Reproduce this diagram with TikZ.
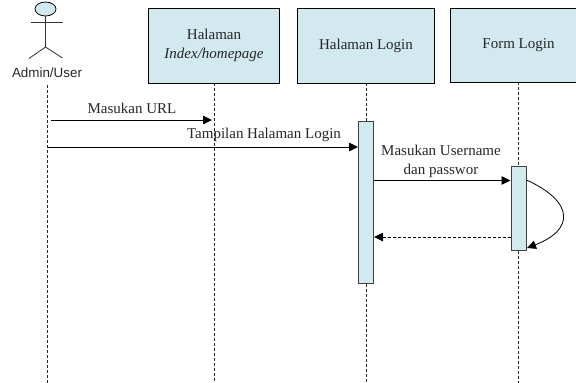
\documentclass[tikz,border=0pt]{standalone}
\usepackage{fontspec}
\setmainfont{Liberation Serif}
\newfontfamily\actorfont{Liberation Sans}
\usetikzlibrary{arrows.meta,shapes.geometric}
\definecolor{boxblue}{HTML}{D2E9EF}
\tikzset{
  pagebox/.style={draw=black,fill=boxblue,line width=.9pt,minimum width=131pt,minimum height=75pt,inner sep=0pt,font=\fontsize{15}{19.5}\selectfont,align=center,text=black!85},
  activebox/.style={draw=black!75,fill=boxblue,line width=1pt,minimum width=15pt,inner sep=0pt},
  lifeline/.style={black!85,line width=.8pt,dash pattern=on 3pt off 2pt},
  message/.style={-{Triangle[length=9pt,width=8.5pt]},line width=.8pt},
  label/.style={font=\fontsize{15}{19}\selectfont,align=center,text=black!85,inner sep=0pt},
  stick/.style={black!80,line width=.8pt}
}
\begin{document}
\begin{tikzpicture}[x=1pt,y=-1pt]
\clip (0,0) rectangle (576,383);

\node[draw=black,fill=boxblue,line width=.8pt,ellipse,minimum width=21pt,minimum height=14pt,inner sep=0pt] (head) at (45.5,9) {};
\coordinate (armleft) at (31,22);
\coordinate (armright) at (63,22);
\coordinate (hip) at (45.5,47);
\coordinate (legleft) at (29,58.5);
\coordinate (legright) at (62.5,58);
\draw[stick] (armleft) -- (armright);
\draw[stick] (head.south) -- (hip);
\draw[stick] (legleft) -- (hip) -- (legright);
\node[font=\actorfont\fontsize{13.4}{16}\selectfont,inner sep=0pt,text=black!85] (admin) at (47,72.5) {Admin/User};

\node[pagebox] (home) at (214,45.5) {Halaman\\\textit{Index/homepage}};
\node[pagebox,minimum width=136.5pt] (login) at (366,45.5) {Halaman Login};
\node[pagebox,minimum width=136.5pt,minimum height=74pt] (form) at (518.5,45) {Form Login};

\node[activebox,minimum height=162pt] (loginbar) at (366,202) {};
\node[activebox,minimum height=84pt] (formbar) at (518.5,208) {};

\coordinate (adminfoot) at (47.5,383);
\coordinate (adminhead) at (47.5,85);
\coordinate (homefoot) at (214,383);
\coordinate (loginfoot) at (366,383);
\coordinate (formfoot) at (518.5,383);
\draw[lifeline] (adminhead) -- (adminfoot);
\draw[lifeline] (home.south) -- (homefoot);
\draw[lifeline] (login.south) -- (loginbar.north);
\draw[lifeline] (loginbar.south) -- (loginfoot);
\draw[lifeline] (form.south) -- (formbar.north);
\draw[lifeline] (formbar.south) -- (formfoot);

\coordinate (urlstart) at (51,120);
\coordinate (urlend) at (212,120);
\coordinate (tampilstart) at (47.5,147);
\coordinate (tampilend) at (358,147);
\draw[message] (urlstart) -- (urlend);
\draw[message] (tampilstart) -- (tampilend);
\draw[message] (loginbar.east |- 0,180.5) coordinate (userstart) -- (formbar.west |- 0,180.5) coordinate (userend);
\draw[message,dash pattern=on 3pt off 2pt] (formbar.west |- 0,237) coordinate (backstart) -- (loginbar.east |- 0,237) coordinate (backend);
\draw[message] (formbar.east |- 0,180) coordinate (selfstart) .. controls (575,202) and (574,230) .. (527,248) coordinate (selfend);

\node[label] (urltext) at (132,108.5) {Masukan URL};
\node[label] (tampiltext) at (264,134.5) {Tampilan Halaman Login};
\node[label] (usertext) at (441,161) {Masukan Username\\dan passwor};
\end{tikzpicture}
\end{document}
